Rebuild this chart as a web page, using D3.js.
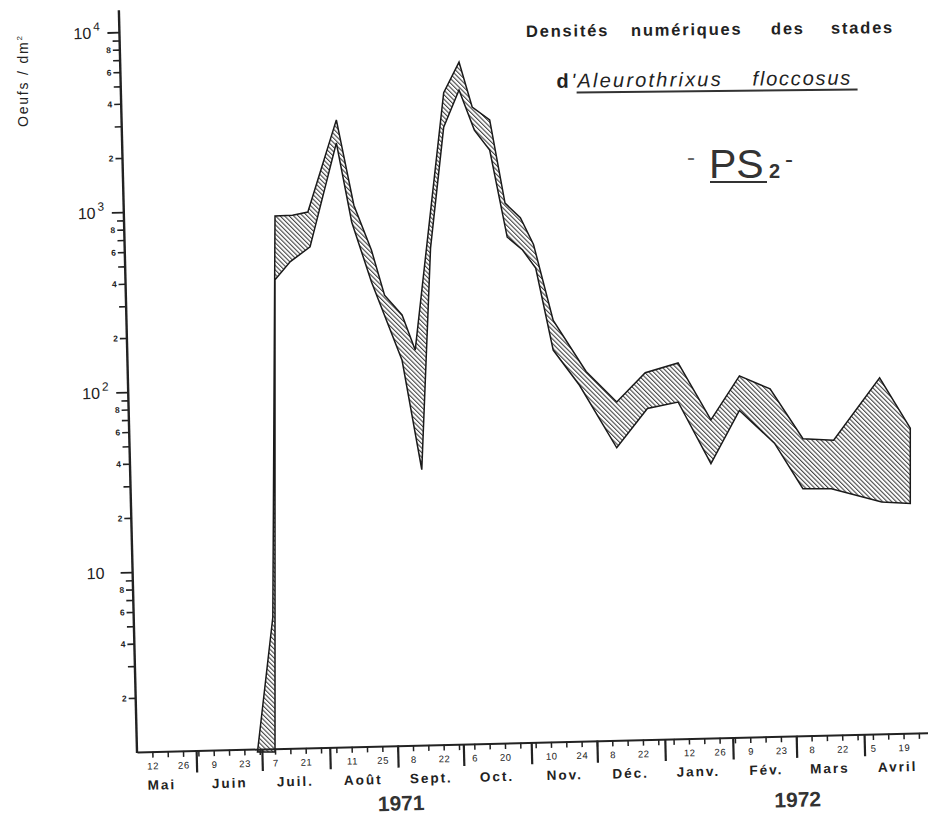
<!DOCTYPE html>
<html>
<head>
<meta charset="utf-8">
<script src="https://cdn.jsdelivr.net/npm/d3@7"></script>
<style>
  html, body { margin: 0; padding: 0; background: #fff; }
  svg { display: block; font-family: "Liberation Sans", Arial, sans-serif; }
</style>
</head>
<body>
<div id="chart"></div>
<script>
// upper and lower limits of the egg density band (Oeufs / dm2)
const upperDates = ["1971-06-29","1971-07-06","1971-07-07","1971-07-15","1971-07-22","1971-08-04","1971-08-12","1971-08-20","1971-08-26","1971-09-03","1971-09-09","1971-09-22","1971-09-29","1971-10-05","1971-10-13","1971-10-20","1971-10-27","1971-11-02","1971-11-11","1971-11-26","1971-12-10","1971-12-23","1972-01-07","1972-01-22","1972-02-04","1972-02-18","1972-03-04","1972-03-18","1972-04-08","1972-04-22"];
const upperValues = [1, 5.6, 950, 960, 1000, 3250, 1090, 615, 345, 268, 171, 4600, 6800, 3830, 3250, 1120, 930, 660, 250, 130, 88, 128, 145, 70, 123, 104, 55, 54, 120, 63];

const lowerDates = ["1971-07-07","1971-07-07","1971-07-14","1971-07-23","1971-08-04","1971-08-11","1971-08-20","1971-09-03","1971-09-12","1971-09-16","1971-09-22","1971-09-29","1971-10-06","1971-10-13","1971-10-21","1971-10-28","1971-11-03","1971-11-11","1971-11-23","1971-12-10","1971-12-24","1972-01-07","1972-01-22","1972-02-04","1972-02-20","1972-03-04","1972-03-17","1972-04-09","1972-04-22"];
const lowerValues = [1, 420, 530, 640, 2420, 880, 410, 150, 37, 630, 2960, 4760, 2850, 2210, 726, 615, 488, 171, 109, 49, 81, 88, 40, 79, 52, 29, 29, 24.5, 24];

// axis labels
const monthNames = ["Mai", "Juin", "Juil.", "Août", "Sept.", "Oct.", "Nov.", "Déc.", "Janv.", "Fév.", "Mars", "Avril"];
const dayLabels = ["1971-05-12","1971-05-26","1971-06-09","1971-06-23","1971-07-07","1971-07-21","1971-08-11","1971-08-25","1971-09-08","1971-09-22","1971-10-06","1971-10-20","1971-11-10","1971-11-24","1971-12-08","1971-12-22","1972-01-12","1972-01-26","1972-02-09","1972-02-23","1972-03-08","1972-03-22","1972-04-05","1972-04-19"];
const years = ["1971", "1972"];
const yearDates = ["1971-09-02", "1972-03-01"];
const decadeTicks = [10, 100, 1000, 10000];
const decadeExp = ["", "2", "3", "4"];
const labelledDigits = [2, 4, 6, 8];

const width = 928, height = 819;
const x0 = 137, y0 = 752;
const tilt = -1.4;   // the scanned axes lean a little
const yearDrop = [65, 71];

const parse = d3.timeParse("%Y-%m-%d");

const svg = d3.select("#chart").append("svg")
    .attr("width", width)
    .attr("height", height);

const x = d3.scaleTime()
    .domain([parse("1971-05-05"), parse("1972-05-01")])
    .range([x0, 930]);

const y = d3.scaleLog()
    .domain([1, 10000])
    .range([y0, 32]);

// hatch
const pat = svg.append("defs").append("pattern")
    .attr("id", "hatch")
    .attr("patternUnits", "userSpaceOnUse")
    .attr("width", 3.2)
    .attr("height", 3.2)
    .attr("patternTransform", "rotate(-45)");
pat.append("line")
    .attr("x1", 0.6).attr("y1", -1)
    .attr("x2", 0.6).attr("y2", 4.2)
    .attr("stroke", "#1a1a1a")
    .attr("stroke-width", 0.9);

// band between the two curves
const upper = upperDates.map((d, i) => ({date: parse(d), value: upperValues[i]}));
const lower = lowerDates.map((d, i) => ({date: parse(d), value: lowerValues[i]}));
const ring = upper.concat(lower.slice().reverse());

const line = d3.line()
    .x(d => x(d.date))
    .y(d => y(d.value));

svg.append("path")
    .attr("d", line(ring) + "Z")
    .attr("fill", "url(#hatch)")
    .attr("stroke", "#1a1a1a")
    .attr("stroke-width", 1.5)
    .attr("stroke-linejoin", "miter");

// axes frame
const frame = svg.append("g")
    .attr("transform", `rotate(${tilt},${x0},${y0})`);

// y axis
const minorTicks = decadeTicks.flatMap(dec => d3.range(2, 10).map(k => k * dec / 10));

frame.append("g")
    .attr("transform", `translate(${x0},0)`)
    .call(d3.axisLeft(y).tickValues(decadeTicks).tickSize(12).tickSizeOuter(0).tickFormat(""))
    .call(g => g.select(".domain").remove())
    .call(g => g.selectAll("line").attr("stroke", "#222").attr("stroke-width", 1.8));

frame.append("g")
    .attr("transform", `translate(${x0},0)`)
    .call(d3.axisLeft(y).tickValues(minorTicks).tickSize(7).tickSizeOuter(0).tickPadding(2)
        .tickFormat(d => {
            const k = Math.round(d / Math.pow(10, Math.floor(Math.log10(d) + 1e-9)));
            return labelledDigits.includes(k) ? k : "";
        }))
    .call(g => g.select(".domain").remove())
    .call(g => g.selectAll("line").attr("stroke", "#222").attr("stroke-width", 1.6))
    .call(g => g.selectAll("text")
        .attr("fill", "#222")
        .style("font-size", "8.5px")
        .style("font-weight", "bold")
        .style("font-family", "'Liberation Sans', Arial, sans-serif"));

frame.append("line")
    .attr("x1", x0).attr("y1", y0 + 1)
    .attr("x2", x0).attr("y2", 10)
    .attr("stroke", "#222")
    .attr("stroke-width", 2.4);

const dec = frame.selectAll(".decade")
    .data(decadeTicks)
    .join("text")
    .attr("class", "decade")
    .attr("x", x0 - 46)
    .attr("y", d => y(d) + 6)
    .attr("fill", "#222")
    .style("font-size", "16px");
dec.append("tspan").text("10");
dec.append("tspan")
    .attr("dx", 2)
    .attr("dy", -8)
    .style("font-size", "12px")
    .text((d, i) => decadeExp[i]);

// x axis
const start = x.domain()[0], stop = x.domain()[1];
const weeks = d3.timeWednesday.range(d3.timeDay.offset(start, 1), stop);
const months = d3.timeMonth.range(d3.timeDay.offset(start, 1), d3.timeDay.offset(stop, 1));

frame.append("g")
    .attr("transform", `translate(0,${y0})`)
    .call(d3.axisBottom(x).tickValues(weeks).tickSize(6).tickSizeOuter(0).tickFormat(""))
    .call(g => g.select(".domain").attr("stroke", "#222").attr("stroke-width", 2))
    .call(g => g.selectAll(".tick line").attr("stroke", "#222").attr("stroke-width", 1.5));

frame.append("g")
    .attr("transform", `translate(0,${y0})`)
    .call(d3.axisBottom(x).tickValues(months).tickSize(22).tickSizeOuter(0).tickFormat(""))
    .call(g => g.select(".domain").remove())
    .call(g => g.selectAll(".tick line").attr("stroke", "#222").attr("stroke-width", 2.2));

frame.append("g")
    .attr("transform", `translate(0,${y0})`)
    .call(d3.axisBottom(x).tickValues(dayLabels.map(parse)).tickSize(0).tickPadding(11)
        .tickFormat(d3.timeFormat("%-d")))
    .call(g => g.select(".domain").remove())
    .call(g => g.selectAll("text")
        .attr("fill", "#222")
        .style("font-size", "9.5px")
        .style("letter-spacing", "0.6px")
        .style("font-family", "'Liberation Sans', Arial, sans-serif"));

frame.selectAll(".month")
    .data(monthNames)
    .join("text")
    .attr("class", "month")
    .attr("x", (d, i) => x(new Date(1971, 4 + i, 16)))
    .attr("y", y0 + 38)
    .attr("text-anchor", "middle")
    .attr("fill", "#222")
    .style("font-size", "13.5px")
    .style("font-weight", "bold")
    .style("letter-spacing", "2px")
    .text(d => d);

frame.selectAll(".year")
    .data(years)
    .join("text")
    .attr("class", "year")
    .attr("x", (d, i) => x(parse(yearDates[i])))
    .attr("y", (d, i) => y0 + yearDrop[i])
    .attr("text-anchor", "middle")
    .attr("fill", "#333")
    .style("font-size", "21px")
    .style("font-weight", "bold")
    .text(d => d);

// y title
const yt = svg.append("text")
    .attr("transform", "translate(28,127) rotate(-90)")
    .attr("fill", "#222")
    .style("font-size", "14px")
    .style("letter-spacing", "1.8px");
yt.append("tspan").text("Oeufs / dm");
yt.append("tspan").attr("dy", -6).style("font-size", "8px").text("2");

// titles
const title = svg.append("g")
    .attr("transform", "rotate(-0.6,715,34)")
    .attr("fill", "#222");

title.append("text")
    .attr("y", 35)
    .style("font-size", "16.5px")
    .style("font-weight", "bold")
    .style("letter-spacing", "1.8px")
    .selectAll("tspan")
    .data([["Densités", 526], ["numériques", 631], ["des", 771], ["stades", 831]])
    .join("tspan")
    .attr("x", d => d[1])
    .text(d => d[0]);

const t2 = title.append("text")
    .attr("y", 86)
    .style("font-size", "20px");
t2.append("tspan").attr("x", 556).style("font-weight", "bold").text("d");
t2.append("tspan").attr("x", 571).style("font-style", "italic").style("letter-spacing", "2.2px").text("'Aleurothrixus");
t2.append("tspan").attr("x", 752).style("font-style", "italic").style("letter-spacing", "1.8px").text("floccosus");

title.append("line")
    .attr("x1", 576).attr("y1", 91)
    .attr("x2", 857).attr("y2", 91)
    .attr("stroke", "#333")
    .attr("stroke-width", 2);

const ps = svg.append("text")
    .attr("y", 178)
    .attr("fill", "#333");
ps.append("tspan").attr("x", 687).attr("y", 165).style("font-size", "24px").attr("fill", "#666").text("-");
ps.append("tspan").attr("x", 709).attr("y", 178).style("font-size", "41px").text("PS");
ps.append("tspan").attr("x", 769).attr("y", 178).style("font-size", "20px").style("font-weight", "bold").text("2");
ps.append("tspan").attr("x", 785).attr("y", 167).style("font-size", "24px").text("-");

svg.append("line")
    .attr("x1", 710).attr("y1", 182)
    .attr("x2", 767).attr("y2", 182)
    .attr("stroke", "#333")
    .attr("stroke-width", 2);
</script>
</body>
</html>
